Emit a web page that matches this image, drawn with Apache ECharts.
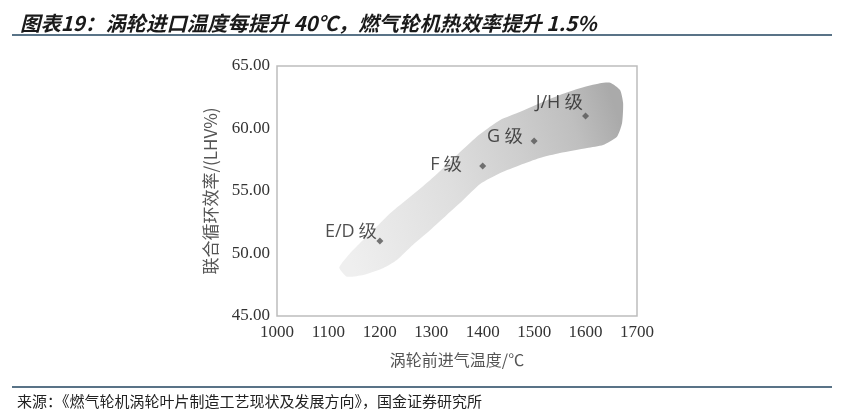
<!DOCTYPE html>
<html>
<head>
<meta charset="utf-8">
<script src="https://cdn.jsdelivr.net/npm/echarts@6/dist/echarts.min.js"></script>
<style>
html, body { margin: 0; padding: 0; background: #fff; }
#container { width: 841px; height: 416px; }
</style>
</head>
<body>
<div id="container"></div>
<script>
var dom = document.getElementById("container");
var myChart = echarts.init(dom);

// 各级燃机：涡轮前进气温度 / 联合循环效率
var classNames = ['E/D 级', 'F 级', 'G 级', 'J/H 级'];
var inletTemps = [1200, 1400, 1500, 1600];
var efficiencies = [51.0, 57.0, 59.0, 61.0];

// 阴影区域轮廓（数据坐标），先下沿自左向右，再上沿自右向左
var bandTemps = [1121, 1126, 1136, 1168, 1207, 1233, 1264, 1298, 1330, 1362, 1395, 1434, 1473, 1511, 1550, 1603, 1634, 1661,
                 1671, 1673, 1667, 1648, 1628, 1589, 1550, 1511, 1473, 1434, 1395, 1375, 1336, 1298, 1259, 1220, 1181, 1161, 1142, 1126];
var bandEffs  = [48.86, 48.54, 48.14, 48.28, 48.84, 49.48, 50.68, 51.88, 53.08, 54.28, 55.56, 56.44, 57.08, 57.64, 58.04, 58.44, 58.68, 59.34,
                 60.44, 62.04, 63.08, 63.66, 63.62, 63.22, 62.68, 62.02, 61.34, 60.68, 59.56, 58.84, 57.34, 55.88, 54.54, 53.22, 51.62, 50.82, 50.02, 49.22];

var xTicks = [1000, 1700, 100];
var yTicks = [45, 65, 5];

var labelOffsets = [[1, -9], [-17, -1], [-8, -4], [1, -13]];

var points = [];
for (var i = 0; i < classNames.length; i++) {
    points.push({
        name: classNames[i],
        value: [inletTemps[i], efficiencies[i]],
        label: { offset: labelOffsets[i] }
    });
}

option = {
    animation: false,
    title: {
        text: '图表19：涡轮进口温度每提升 40℃，燃气轮机热效率提升 1.5%',
        left: 15,
        top: 8,
        textStyle: {
            fontFamily: '"Noto Sans CJK SC"',
            fontSize: 20.4,
            fontWeight: 'bold',
            fontStyle: 'italic',
            color: '#1a1a1a'
        }
    },
    graphic: [
        { type: 'line', shape: { x1: 12, y1: 35, x2: 832, y2: 35 }, style: { stroke: '#22445f', lineWidth: 1.5 } },
        { type: 'line', shape: { x1: 12, y1: 387, x2: 832, y2: 387 }, style: { stroke: '#22445f', lineWidth: 1.5 } },
        {
            type: 'text', left: 17, top: 394,
            style: {
                text: '来源：《燃气轮机涡轮叶片制造工艺现状及发展方向》，国金证券研究所',
                font: '15px "Noto Sans CJK SC"',
                fill: '#222'
            }
        }
    ],
    grid: {
        left: 277, right: 204, top: 66, bottom: 100,
        show: true,
        borderColor: '#bdbdbd',
        borderWidth: 1.5
    },
    xAxis: {
        type: 'value',
        min: xTicks[0], max: xTicks[1], interval: xTicks[2],
        name: '涡轮前进气温度/℃',
        nameLocation: 'middle',
        nameGap: 36,
        nameTextStyle: { fontFamily: '"Noto Sans CJK SC"', fontSize: 16, color: '#555' },
        axisLine: { show: false },
        axisTick: { show: false },
        splitLine: { show: false },
        axisLabel: {
            fontFamily: '"Liberation Serif"', fontSize: 17, color: '#333', margin: 8,
            formatter: function (v) { return String(v); }
        }
    },
    yAxis: {
        type: 'value',
        min: yTicks[0], max: yTicks[1], interval: yTicks[2],
        name: '联合循环效率/(LHV%)',
        nameLocation: 'middle',
        nameGap: 58,
        nameTextStyle: { fontFamily: '"Noto Sans CJK SC"', fontSize: 17, color: '#555' },
        axisLine: { show: false },
        axisTick: { show: false },
        splitLine: { show: false },
        axisLabel: {
            fontFamily: '"Liberation Serif"', fontSize: 17, color: '#333', margin: 7,
            formatter: function (v) { return v.toFixed(2); }
        }
    },
    series: [
        {
            type: 'custom',
            silent: true,
            data: [0],
            renderItem: function (params, api) {
                var pts = [];
                for (var k = 0; k < bandTemps.length; k++) {
                    pts.push(api.coord([bandTemps[k], bandEffs[k]]));
                }
                return {
                    type: 'polygon',
                    shape: { points: pts, smooth: 0.2 },
                    style: {
                        fill: {
                            type: 'linear', x: 0, y: 0.75, x2: 1, y2: 0.25,
                            colorStops: [
                                { offset: 0, color: '#efefef' },
                                { offset: 0.4, color: '#dedede' },
                                { offset: 0.65, color: '#cecece' },
                                { offset: 0.85, color: '#bfbfbf' },
                                { offset: 1, color: '#aaaaaa' }
                            ]
                        },
                        stroke: null
                    }
                };
            }
        },
        {
            type: 'scatter',
            symbol: 'diamond',
            symbolSize: 7,
            itemStyle: { color: '#555' },
            label: {
                show: true,
                position: 'left',
                distance: 0,
                formatter: '{b}',
                fontFamily: '"Open Sans"',
                fontSize: 18,
                color: '#222'
            },
            data: points
        }
    ]
};
if (option && typeof option === "object") {
    myChart.setOption(option, true);
}
</script>
</body>
</html>
